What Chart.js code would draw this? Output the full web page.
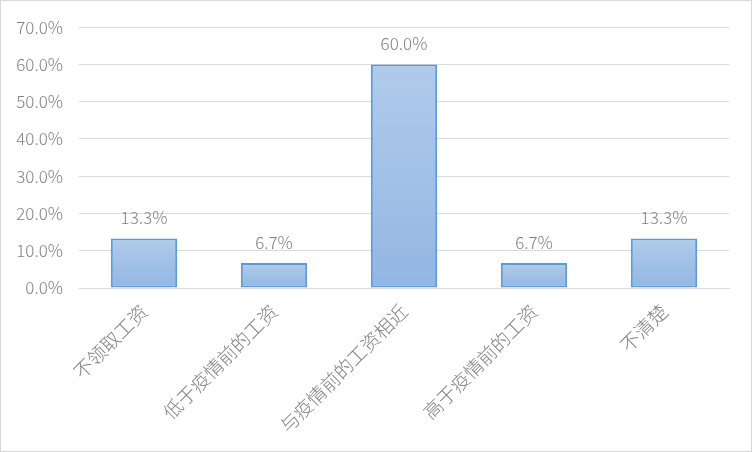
<!DOCTYPE html>
<html>
<head>
<meta charset="utf-8">
<script src="https://cdn.jsdelivr.net/npm/chart.js@4/dist/chart.umd.min.js"></script>
<style>
  html, body { margin: 0; padding: 0; background: #fff; }
  #wrap { width: 750px; height: 450px; border: 1px solid #d9d9d9; position: relative; }
</style>
</head>
<body>
<div id="wrap"><canvas id="myChart" width="750" height="450"></canvas></div>
<script>
const categories = ['不领取工资', '低于疫情前的工资', '与疫情前的工资相近', '高于疫情前的工资', '不清楚'];
const values = [13.3, 6.7, 60.0, 6.7, 13.3];
const yTicks = [0, 10, 20, 30, 40, 50, 60, 70];

const labelFont = '"Noto Sans CJK SC", "Noto Sans", sans-serif';

// draws the value above each bar
const valueLabels = {
    id: 'valueLabels',
    afterDatasetsDraw(chart) {
        const ctx = chart.ctx;
        const meta = chart.getDatasetMeta(0);
        ctx.save();
        ctx.fillStyle = '#808080';
        ctx.font = '300 17px ' + labelFont;
        ctx.textAlign = 'center';
        ctx.textBaseline = 'alphabetic';
        meta.data.forEach((bar, i) => {
            ctx.fillText(values[i].toFixed(1) + '%', bar.x, bar.y - 14);
        });
        ctx.restore();
    }
};

const ctx = document.getElementById('myChart').getContext('2d');
new Chart(ctx, {
    type: 'bar',
    data: {
        labels: categories,
        datasets: [{
            data: values,
            backgroundColor: function(context) {
                const chart = context.chart;
                const yScale = chart.scales.y;
                if (!chart.chartArea || !yScale || context.parsed == null) return '#a2c0e7';
                const top = yScale.getPixelForValue(context.parsed.y);
                const bottom = yScale.getPixelForValue(0);
                const g = chart.ctx.createLinearGradient(0, top, 0, bottom);
                g.addColorStop(0, '#b1cbea');
                g.addColorStop(1, '#92b6e3');
                return g;
            },
            borderColor: '#5b9bd5',
            borderWidth: 2,
            borderSkipped: false,
            categoryPercentage: 1.0,
            barPercentage: 0.51
        }]
    },
    options: {
        responsive: false,
        animation: false,
        layout: { padding: { left: 0, right: 22, top: 12, bottom: 0 } },
        plugins: {
            legend: { display: false },
            tooltip: { enabled: false }
        },
        scales: {
            x: {
                afterFit(scale) { scale.height = 163; },
                grid: { display: false, drawTicks: false },
                border: { display: true, color: '#d9d9d9', width: 1 },
                ticks: {
                    color: '#808080',
                    font: { size: 19, weight: 300, family: labelFont },
                    maxRotation: 45,
                    minRotation: 45,
                    padding: 12
                }
            },
            y: {
                min: 0,
                max: 70,
                afterFit(scale) { scale.width = 78; },
                afterBuildTicks(axis) {
                    axis.ticks = yTicks.map(v => ({ value: v }));
                },
                grid: { color: '#d9d9d9', lineWidth: 1, drawTicks: false },
                border: { display: false },
                ticks: {
                    color: '#808080',
                    font: { size: 17, weight: 300, family: labelFont },
                    padding: 16,
                    callback: v => v.toFixed(1) + '%'
                }
            }
        }
    },
    plugins: [valueLabels]
});
</script>
</body>
</html>
